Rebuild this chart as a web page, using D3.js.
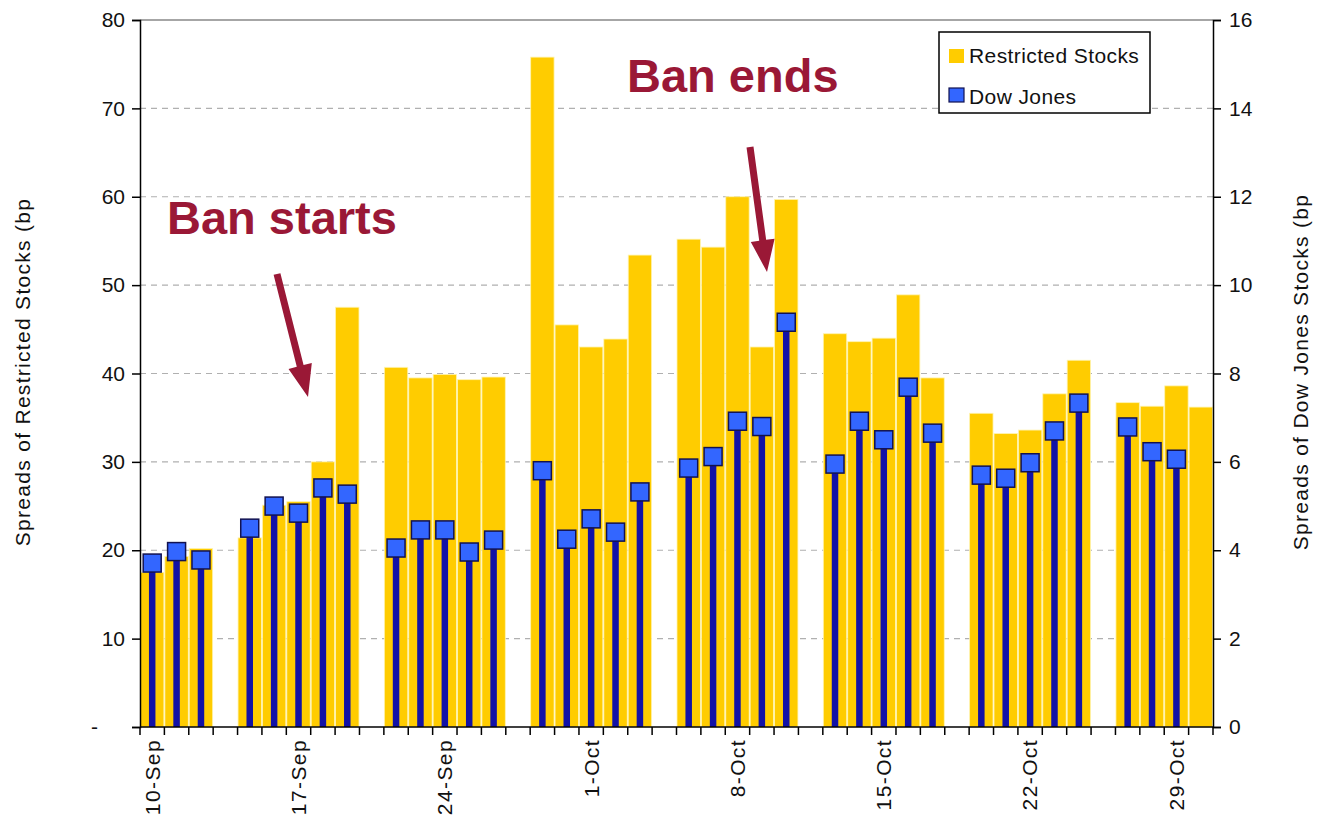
<!DOCTYPE html>
<html>
<head>
<meta charset="utf-8">
<script src="https://cdn.jsdelivr.net/npm/d3@7"></script>
<style>
  body { margin: 0; background: #fff; }
  text { font-family: "Liberation Sans", Arial, sans-serif; }
</style>
</head>
<body>
<div id="chart"></div>
<script>
// trading days, one empty slot per weekend
const categories = ["10-Sep","11-Sep","12-Sep","13-Sep",
    "15-Sep","16-Sep","17-Sep","18-Sep","19-Sep","20-Sep",
    "22-Sep","23-Sep","24-Sep","25-Sep","26-Sep","27-Sep",
    "29-Sep","30-Sep","1-Oct","2-Oct","3-Oct","4-Oct",
    "6-Oct","7-Oct","8-Oct","9-Oct","10-Oct","11-Oct",
    "13-Oct","14-Oct","15-Oct","16-Oct","17-Oct","18-Oct",
    "20-Oct","21-Oct","22-Oct","23-Oct","24-Oct","25-Oct",
    "27-Oct","28-Oct","29-Oct","30-Oct"];

const tickLabels = ["10-Sep","17-Sep","24-Sep","1-Oct","8-Oct","15-Oct","22-Oct","29-Oct"];

const restricted = [17.5,19.3,20.2,null,
    21.4,25.1,25.5,30.0,47.5,null,
    40.7,39.5,39.9,39.3,39.6,null,
    75.8,45.5,43.0,43.9,53.4,null,
    55.2,54.3,60.0,43.0,59.7,null,
    44.5,43.6,44.0,48.9,39.5,null,
    35.5,33.2,33.6,37.7,41.5,null,
    36.7,36.3,38.6,36.2];

const dowJones = [3.71,3.97,3.78,null,
    4.50,5.00,4.84,5.41,5.27,null,
    4.05,4.46,4.46,3.96,4.23,null,
    5.80,4.25,4.71,4.41,5.32,null,
    5.86,6.12,6.92,6.80,9.16,null,
    5.95,6.92,6.50,7.69,6.65,null,
    5.70,5.63,5.98,6.70,7.33,null,
    6.79,6.23,6.06,null];

const leftTicks = [0,10,20,30,40,50,60,70,80];
const rightTicks = [0,2,4,6,8,10,12,14,16];

const width = 1332, height = 823;
const plotLeft = 140, plotRight = 1213, plotTop = 20, plotBottom = 727;

const svg = d3.select("#chart").append("svg")
    .attr("width", width)
    .attr("height", height);

const x = d3.scaleBand()
    .domain(categories)
    .range([plotLeft, plotRight])
    .padding(0);

const yL = d3.scaleLinear().domain([0, 80]).range([plotBottom, plotTop]);
const yR = d3.scaleLinear().domain([0, 16]).range([plotBottom, plotTop]);

const rows = categories.map((c, i) => ({ cat: c, r: restricted[i], d: dowJones[i] }));

// gridlines
svg.append("g")
    .selectAll("line")
    .data(leftTicks.filter(v => v > 0 && v < 80))
    .enter()
    .append("line")
    .attr("x1", plotLeft)
    .attr("x2", plotRight)
    .attr("y1", d => yL(d))
    .attr("y2", d => yL(d))
    .attr("stroke", "#b0b0b0")
    .attr("stroke-width", 1.2)
    .attr("stroke-dasharray", "6,5");

// top border of plot area
svg.append("line")
    .attr("x1", plotLeft).attr("x2", plotRight)
    .attr("y1", plotTop).attr("y2", plotTop)
    .attr("stroke", "#888")
    .attr("stroke-width", 1.5);

// restricted stocks bars
svg.append("g")
    .selectAll("rect")
    .data(rows.filter(d => d.r != null))
    .enter()
    .append("rect")
    .attr("x", d => x(d.cat) + 0.5)
    .attr("y", d => yL(d.r))
    .attr("width", x.bandwidth() - 1)
    .attr("height", d => plotBottom - yL(d.r))
    .attr("fill", "#FFCC00")
    .attr("stroke", "#fff4b0")
    .attr("stroke-width", 0.8);

// dow jones stems + markers
const dj = rows.filter(d => d.d != null);
svg.append("g")
    .selectAll("rect")
    .data(dj)
    .enter()
    .append("rect")
    .attr("x", d => x(d.cat) + x.bandwidth() / 2 - 3.25)
    .attr("y", d => yR(d.d))
    .attr("width", 6.5)
    .attr("height", d => plotBottom - yR(d.d))
    .attr("fill", "#1212a6");

svg.append("g")
    .selectAll("rect")
    .data(dj)
    .enter()
    .append("rect")
    .attr("x", d => x(d.cat) + x.bandwidth() / 2 - 9)
    .attr("y", d => yR(d.d) - 9)
    .attr("width", 18)
    .attr("height", 18)
    .attr("fill", "#3366FF")
    .attr("stroke", "#121250")
    .attr("stroke-width", 1.5);

// left axis
const gL = svg.append("g")
    .attr("transform", `translate(${plotLeft},0)`)
    .call(d3.axisLeft(yL).tickValues(leftTicks).tickSize(8).tickPadding(7)
        .tickFormat(d => d === 0 ? "-" : d));
gL.select(".domain").attr("stroke", "#000").attr("stroke-width", 1.5);
gL.selectAll(".tick line").attr("stroke", "#000").attr("stroke-width", 1.5);
gL.selectAll("text").style("font-size", "21px").attr("fill", "#111");
gL.selectAll(".tick text").filter(d => d === 0).attr("dx", -27);

// right axis
const gR = svg.append("g")
    .attr("transform", `translate(${plotRight},0)`)
    .call(d3.axisRight(yR).tickValues(rightTicks).tickSize(8).tickPadding(8));
gR.select(".domain").attr("stroke", "#000").attr("stroke-width", 1.5);
gR.selectAll(".tick line").attr("stroke", "#000").attr("stroke-width", 1.5);
gR.selectAll("text").style("font-size", "21px").attr("fill", "#111");

// bottom axis: ticks between categories
svg.append("line")
    .attr("x1", plotLeft).attr("x2", plotRight)
    .attr("y1", plotBottom).attr("y2", plotBottom)
    .attr("stroke", "#000").attr("stroke-width", 1.5);
svg.append("g")
    .selectAll("line")
    .data(d3.range(categories.length + 1))
    .enter()
    .append("line")
    .attr("x1", i => plotLeft + i * x.step())
    .attr("x2", i => plotLeft + i * x.step())
    .attr("y1", plotBottom)
    .attr("y2", plotBottom + 8)
    .attr("stroke", "#000")
    .attr("stroke-width", 1.5);

const gX = svg.append("g")
    .attr("transform", `translate(0,${plotBottom})`)
    .call(d3.axisBottom(x).tickValues(tickLabels).tickSize(0));
gX.select(".domain").remove();
gX.selectAll("text")
    .style("font-size", "21px")
    .style("letter-spacing", "1.4px")
    .attr("fill", "#111")
    .style("text-anchor", "end")
    .attr("transform", "rotate(-90)")
    .attr("x", -12)
    .attr("y", 0)
    .attr("dy", "0.35em");

// axis titles
svg.append("text")
    .attr("transform", `translate(30,372) rotate(-90)`)
    .style("text-anchor", "middle")
    .style("font-size", "21px")
    .style("letter-spacing", "1.3px")
    .attr("fill", "#111")
    .text("Spreads of Restricted Stocks (bp");

svg.append("text")
    .attr("transform", `translate(1308,372) rotate(-90)`)
    .style("text-anchor", "middle")
    .style("font-size", "21px")
    .style("letter-spacing", "1.3px")
    .attr("fill", "#111")
    .text("Spreads of Dow Jones Stocks (bp");

// legend
const legend = svg.append("g");
legend.append("rect")
    .attr("x", 939).attr("y", 32)
    .attr("width", 211).attr("height", 81)
    .attr("fill", "#fff")
    .attr("stroke", "#000")
    .attr("stroke-width", 1.5);
legend.append("rect")
    .attr("x", 949).attr("y", 49).attr("width", 15).attr("height", 14)
    .attr("fill", "#FFCC00");
legend.append("text")
    .attr("x", 969).attr("y", 63)
    .style("font-size", "21px")
    .style("letter-spacing", "0.4px")
    .attr("fill", "#111")
    .text("Restricted Stocks");
legend.append("rect")
    .attr("x", 949).attr("y", 88).attr("width", 15).attr("height", 14)
    .attr("fill", "#3366FF")
    .attr("stroke", "#121250")
    .attr("stroke-width", 1.2);
legend.append("text")
    .attr("x", 969).attr("y", 104)
    .style("font-size", "21px")
    .style("letter-spacing", "0.4px")
    .attr("fill", "#111")
    .text("Dow Jones");

// annotations
const annoColor = "#9a1836";
function arrow(x1, y1, x2, y2) {
    const dx = x2 - x1, dy = y2 - y1, len = Math.hypot(dx, dy);
    const ux = dx / len, uy = dy / len, px = -uy, py = ux;
    const sw = 3.5, hw = 12, hl = 32;
    const bx = x2 - ux * hl, by = y2 - uy * hl;
    return d3.line()([
        [x1 + px * sw, y1 + py * sw],
        [bx + px * sw, by + py * sw],
        [bx + px * hw, by + py * hw],
        [x2, y2],
        [bx - px * hw, by - py * hw],
        [bx - px * sw, by - py * sw],
        [x1 - px * sw, y1 - py * sw]
    ]) + "Z";
}

svg.append("path").attr("d", arrow(277, 274, 308, 397)).attr("fill", annoColor);
svg.append("path").attr("d", arrow(750, 147, 767, 272)).attr("fill", annoColor);

svg.append("text")
    .attr("x", 167).attr("y", 234)
    .style("font-size", "47px")
    .style("font-weight", "bold")
    .attr("fill", annoColor)
    .text("Ban starts");

svg.append("text")
    .attr("x", 627).attr("y", 92)
    .style("font-size", "47px")
    .style("font-weight", "bold")
    .attr("fill", annoColor)
    .text("Ban ends");
</script>
</body>
</html>
